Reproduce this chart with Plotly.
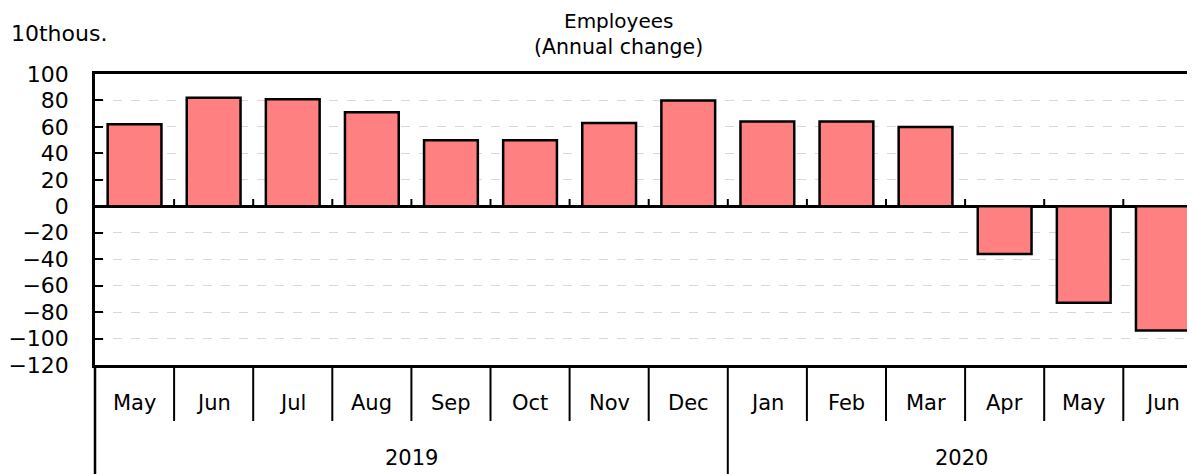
import plotly.graph_objects as go

months = ["May", "Jun", "Jul", "Aug", "Sep", "Oct", "Nov", "Dec",
          "Jan", "Feb", "Mar", "Apr", "May", "Jun"]
years = ["2019"] * 8 + ["2020"] * 6
values = [62, 82, 81, 71, 50, 50, 63, 80, 64, 64, 60, -36, -73, -94]
y_ticks = [100, 80, 60, 40, 20, 0, -20, -40, -60, -80, -100, -120]

FONT = "DejaVu Sans"
x = list(range(len(months)))

# page body has an 8px offset; figure coordinates are compensated for it
OFF = 8
W, H = 1195 - OFF, 474 - OFF
L, T, B = 95 - OFF, 74 - OFF, 474 - 365
PW = W - L
PH = H - T - B
XMAX = -0.5 + PW / 79.1

fig = go.Figure()
fig.add_trace(go.Bar(
    x=x, y=values, width=0.68,
    marker=dict(color="#FF8080", line=dict(color="black", width=2.5)),
    hoverinfo="skip",
))


def py(ypix):
    """convert absolute screen y pixel to paper coordinate"""
    return 1 - (ypix - 74) / PH


def px(xpix):
    return (xpix - 95) / PW


shapes = []
annotations = []
for i in range(len(months) - 1):
    shapes.append(dict(type="line", xref="x", yref="y", x0=i + 0.5, x1=i + 0.5,
                       y0=0, y1=5.5, line=dict(color="black", width=2)))
for i in range(len(months) - 1):
    is_year = years[i] != years[i + 1]
    shapes.append(dict(type="line", xref="x", yref="paper", x0=i + 0.5, x1=i + 0.5,
                       y0=0, y1=py(480) if is_year else py(421),
                       line=dict(color="black", width=2)))
shapes.append(dict(type="line", xref="paper", yref="paper", x0=0, x1=0,
                   y0=0, y1=py(480), line=dict(color="black", width=2.5)))

for i, m in enumerate(months):
    annotations.append(dict(x=i, y=py(403), xref="x", yref="paper", text=m,
                            showarrow=False, font=dict(family=FONT, size=21, color="black"),
                            yanchor="middle"))
uniq = []
for i, yv in enumerate(years):
    if not uniq or uniq[-1][0] != yv:
        uniq.append([yv, i, i])
    else:
        uniq[-1][2] = i
for yv, a, b in uniq:
    left = a - 0.5
    right = min(b + 0.5, XMAX)
    annotations.append(dict(x=(left + right) / 2, y=py(458), xref="x", yref="paper", text=yv,
                            showarrow=False, font=dict(family=FONT, size=21, color="black"),
                            yanchor="middle"))

annotations.append(dict(xref="paper", yref="paper", x=px(618), y=py(21),
                        text="Employees", showarrow=False, yanchor="middle",
                        font=dict(family=FONT, size=20, color="black")))
annotations.append(dict(xref="paper", yref="paper", x=px(618), y=py(47),
                        text="(Annual change)", showarrow=False, yanchor="middle",
                        font=dict(family=FONT, size=20.5, color="black")))
annotations.append(dict(xref="paper", yref="paper", x=px(9), y=py(33),
                        text="10thous.", showarrow=False, xanchor="left", yanchor="middle",
                        font=dict(family=FONT, size=22, color="black")))

fig.update_layout(
    width=W, height=H,
    margin=dict(l=L, r=0, t=T, b=B),
    plot_bgcolor="white", paper_bgcolor="white",
    showlegend=False,
    shapes=shapes, annotations=annotations,
    font=dict(family=FONT, size=21, color="black"),
    xaxis=dict(range=[-0.5, XMAX], showticklabels=False, showgrid=False,
               showline=True, linecolor="black", linewidth=2.5, mirror=True,
               ticks="", zeroline=False, fixedrange=True),
    yaxis=dict(range=[-120, 100], tickvals=y_ticks, showgrid=True,
               gridcolor="#d8d8d8", griddash="dash", gridwidth=1,
               showline=True, linecolor="black", linewidth=2.5,
               ticks="inside", ticklen=8, tickwidth=2, tickcolor="black",
               zeroline=True, zerolinecolor="black", zerolinewidth=2.5,
               ticklabelstandoff=19, tickfont=dict(family=FONT, size=22),
               automargin=False, fixedrange=True),
)

fig.write_html("out.html")
